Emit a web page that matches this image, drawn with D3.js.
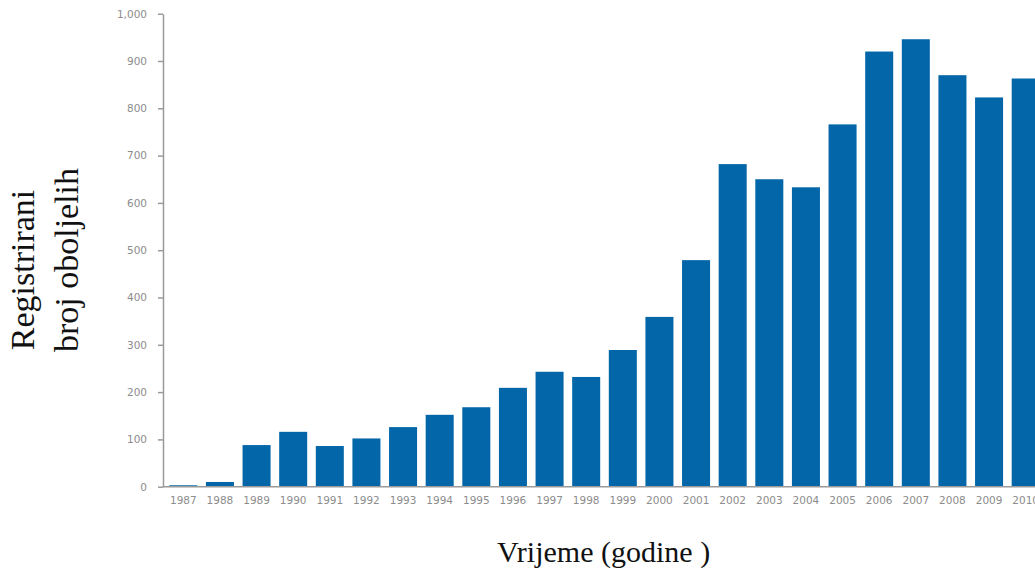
<!DOCTYPE html>
<html lang="hr">
<head>
<meta charset="utf-8">
<title>Registrirani broj oboljelih</title>
<script src="https://cdn.jsdelivr.net/npm/d3@7/dist/d3.min.js"></script>
<style>
  body { margin: 0; background: #fff; }
  svg { display: block; }
  .axis path, .axis line { stroke: #9a9a9a; stroke-width: 1.5; }
  .axis text { fill: #8c8c8c; font-family: "DejaVu Sans", sans-serif; font-size: 10.5px; }
  .title { font-family: "Liberation Serif", "Times New Roman", serif; fill: #111; }
</style>
</head>
<body>
<div id="chart"></div>
<script>
// years on the x axis
var years = ["1987","1988","1989","1990","1991","1992","1993","1994","1995","1996","1997","1998",
             "1999","2000","2001","2002","2003","2004","2005","2006","2007","2008","2009","2010"];
// registered cases per year
var cases = [3, 10, 88, 116, 86, 102, 126, 152, 168, 209, 243, 232,
             289, 359, 479, 682, 650, 633, 766, 920, 946, 870, 823, 863];
var yTicks = [0, 100, 200, 300, 400, 500, 600, 700, 800, 900, 1000];

var width = 1035, height = 568;

var svg = d3.select("#chart").append("svg")
  .attr("width", width)
  .attr("height", height);

var x = d3.scaleBand()
  .domain(years)
  .range([163, 1046])
  .paddingInner(0.235)
  .paddingOuter(0.172);

var y = d3.scaleLinear()
  .domain([0, 1000])
  .range([486.7, 13.7]);

// bars
svg.selectAll("rect.bar")
  .data(cases)
  .enter().append("rect")
  .attr("class", "bar")
  .attr("x", function(d, i) { return x(years[i]); })
  .attr("y", function(d) { return y(d); })
  .attr("width", x.bandwidth())
  .attr("height", function(d) { return y(0) - y(d); })
  .attr("fill", "#0366a8");

// y axis
svg.append("g")
  .attr("class", "axis")
  .attr("transform", "translate(163,0)")
  .call(d3.axisLeft(y).tickValues(yTicks).tickSize(5).tickSizeOuter(0).tickPadding(11)
    .tickFormat(d3.format(",")));

// x axis
svg.append("g")
  .attr("class", "axis")
  .attr("transform", "translate(0," + y(0) + ")")
  .call(d3.axisBottom(x).tickSize(0).tickSizeOuter(0).tickPadding(10))
  .select(".domain").attr("d", "M163,0H1046");

// axis titles
svg.append("text")
  .attr("class", "title")
  .attr("x", 497)
  .attr("y", 562)
  .style("font-size", "30px")
  .text("Vrijeme (godine )");

svg.append("text")
  .attr("class", "title")
  .attr("transform", "translate(34,270) rotate(-90)")
  .attr("text-anchor", "middle")
  .style("font-size", "34px")
  .text("Registrirani");

svg.append("text")
  .attr("class", "title")
  .attr("transform", "translate(78,260) rotate(-90)")
  .attr("text-anchor", "middle")
  .style("font-size", "34px")
  .text("broj oboljelih");
</script>
</body>
</html>
